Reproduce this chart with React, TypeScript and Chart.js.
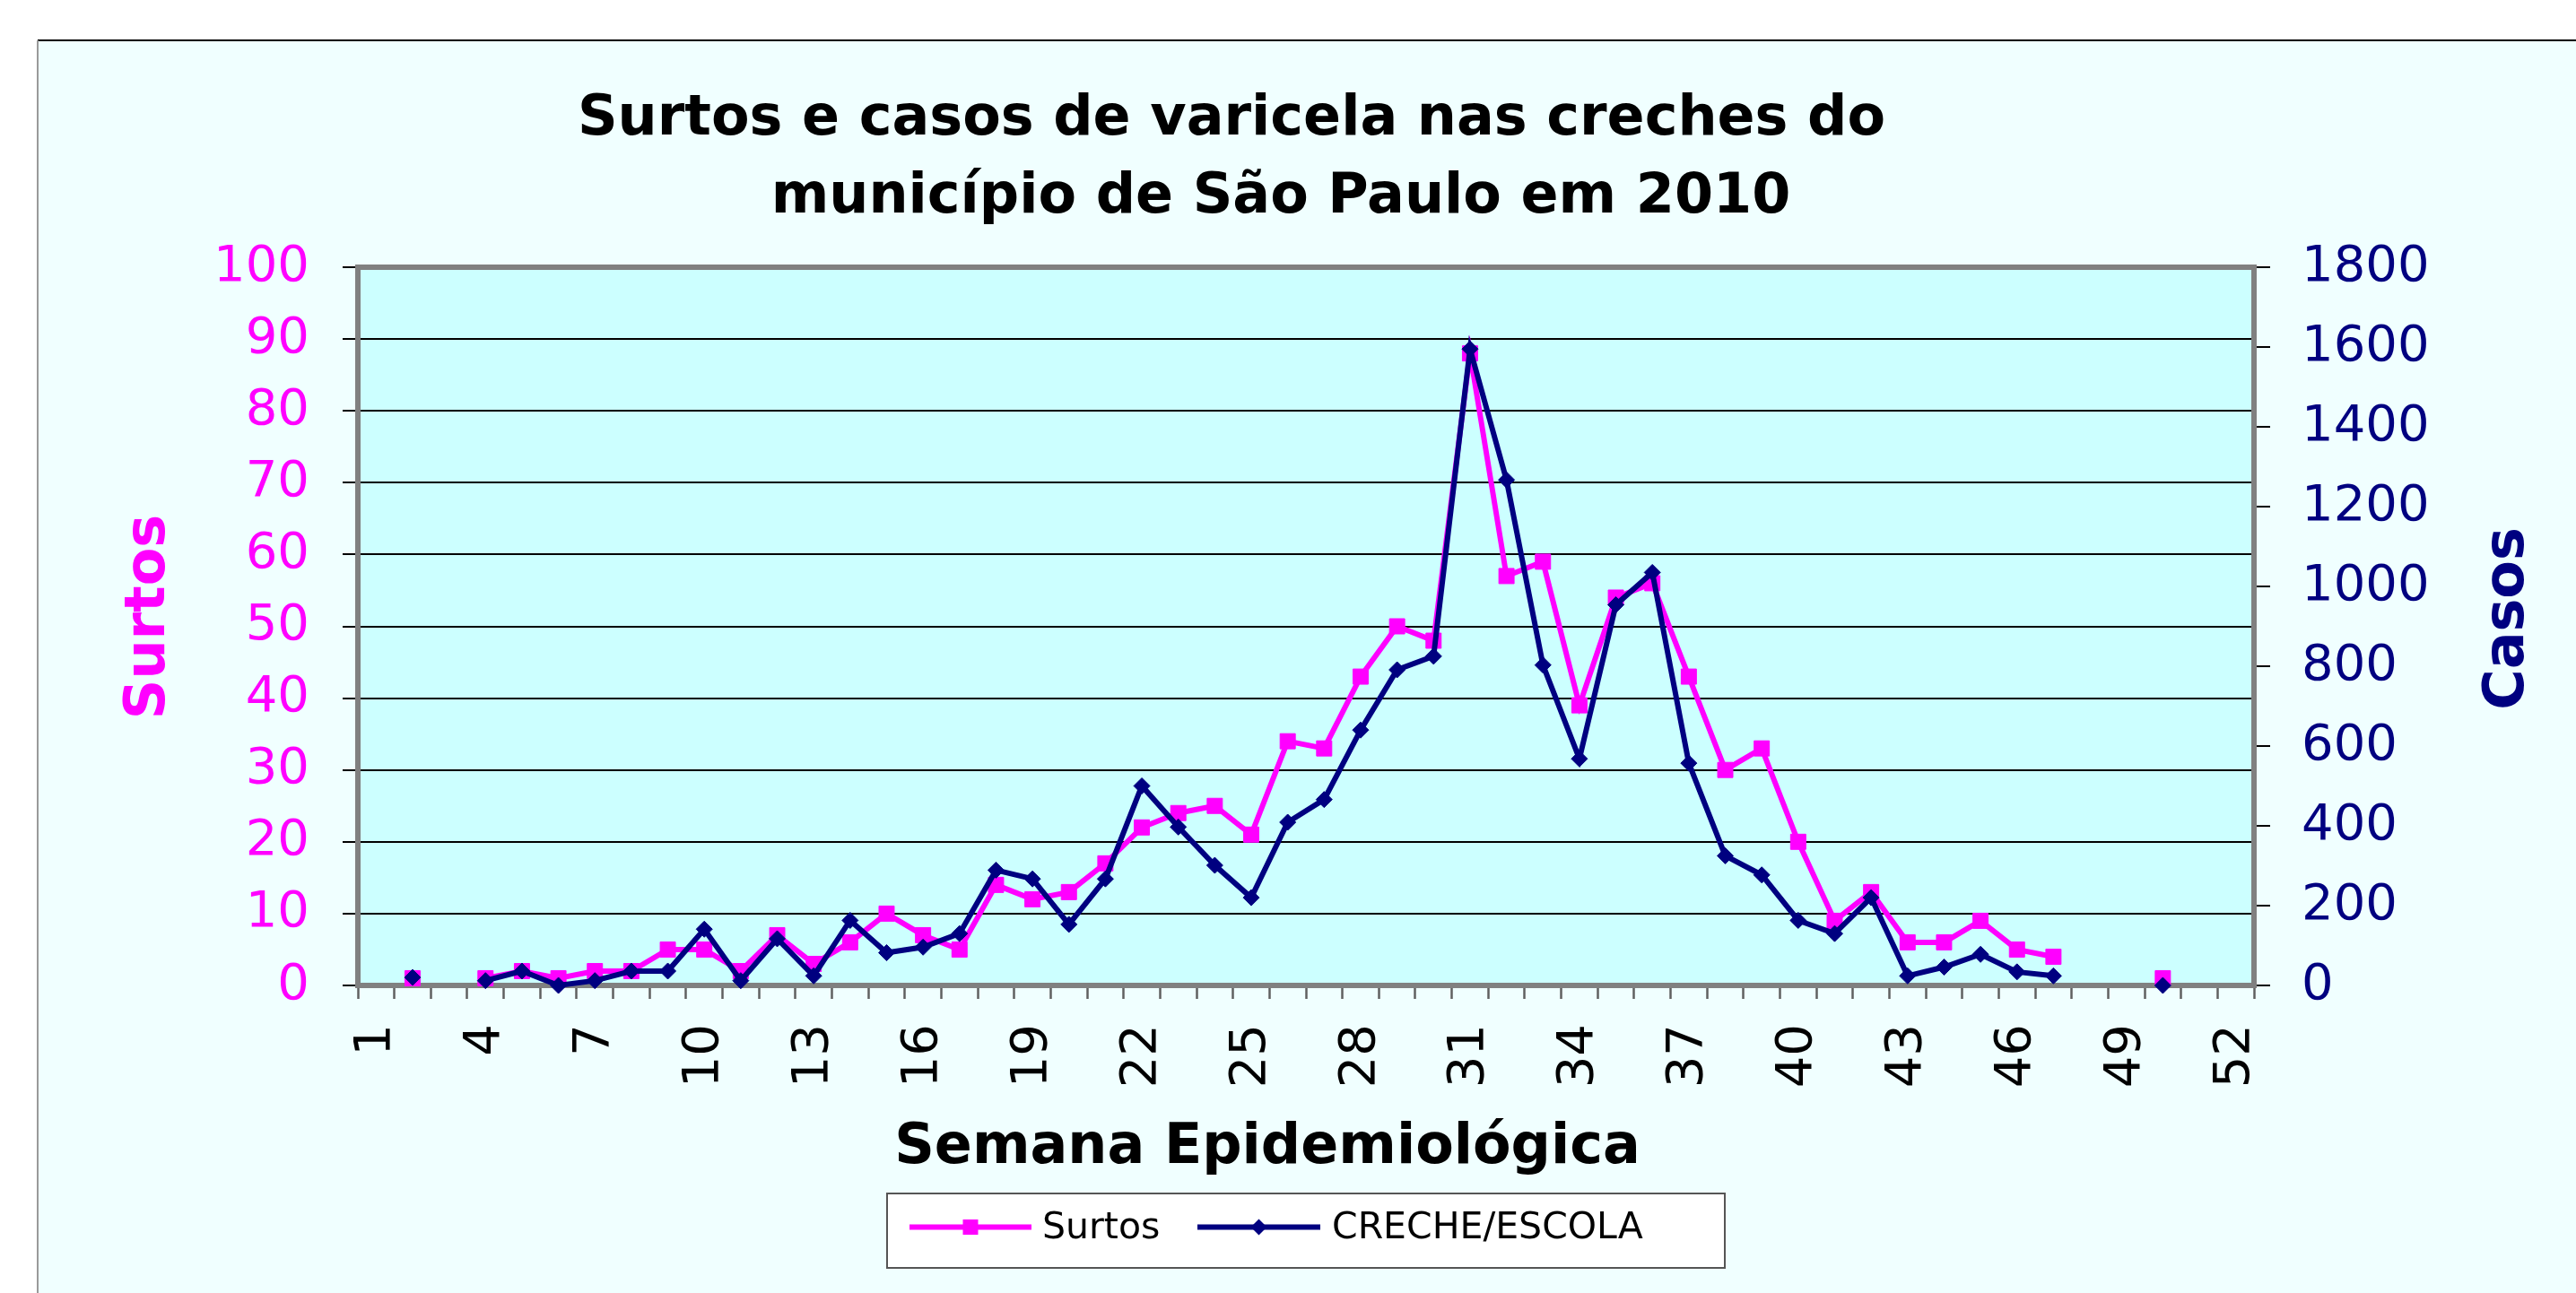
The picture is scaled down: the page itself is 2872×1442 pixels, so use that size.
import React, { useEffect, useRef } from 'react';
import { Chart, registerables } from 'chart.js';

Chart.register(...registerables);

const weeks = ['1','2','3','4','5','6','7','8','9','10','11','12','13','14','15','16','17','18','19','20','21','22','23','24','25','26','27','28','29','30','31','32','33','34','35','36','37','38','39','40','41','42','43','44','45','46','47','48','49','50','51','52'];

const surtos = [null, 1, null, 1, 2, 1, 2, 2, 5, 5, 2, 7, 3, 6, 10, 7, 5, 14, 12, 13, 17, 22, 24, 25, 21, 34, 33, 43, 50, 48, 88, 57, 59, 39, 54, 56, 43, 30, 33, 20, 9, 13, 6, 6, 9, 5, 4, null, null, 1, null, null];

const casos = [null, 20, null, 12, 36, 0, 12, 36, 36, 141, 12, 117, 24, 163, 82, 96, 130, 289, 267, 153, 267, 500, 397, 301, 220, 409, 466, 640, 791, 825, 1595, 1267, 803, 568, 954, 1035, 557, 325, 277, 163, 130, 220, 24, 46, 78, 34, 24, null, null, 0, null, null];

const titleLines = ['Surtos e casos de varicela nas creches do', 'município de São Paulo em 2010'];
const xTitle = 'Semana Epidemiológica';
const yLeftTitle = 'Surtos';
const yRightTitle = 'Casos';
const seriesNames = ['Surtos', 'CRECHE/ESCOLA'];

const MAGENTA = '#FF00FF';
const NAVY = '#000080';
const FONT = "'DejaVu Sans', Verdana, sans-serif";

export default function App() {
  const ref = useRef<HTMLCanvasElement>(null);

  useEffect(() => {
    const canvas = ref.current!;

    const decor = {
      id: 'decor',
      beforeDraw(chart: any) {
        const { ctx, width, height, chartArea: a } = chart;
        ctx.save();
        ctx.fillStyle = '#ffffff';
        ctx.fillRect(0, 0, width, height);
        ctx.fillStyle = '#F0FFFF';
        ctx.fillRect(42, 45, width - 42, height - 45);
        ctx.lineWidth = 2;
        ctx.strokeStyle = '#000000';
        ctx.beginPath();
        ctx.moveTo(42, 45);
        ctx.lineTo(width, 45);
        ctx.stroke();
        ctx.strokeStyle = '#9a9a9a';
        ctx.beginPath();
        ctx.moveTo(42, 45);
        ctx.lineTo(42, height);
        ctx.stroke();
        ctx.fillStyle = '#CCFFFF';
        ctx.fillRect(a.left, a.top, a.width, a.height);
        ctx.restore();
      },
      beforeDatasetsDraw(chart: any) {
        const { ctx, chartArea: a } = chart;
        ctx.save();
        ctx.strokeStyle = '#808080';
        ctx.lineWidth = 6;
        ctx.strokeRect(a.left, a.top, a.width, a.height);
        ctx.restore();
      },
      afterDraw(chart: any) {
        const { ctx } = chart;
        ctx.save();
        ctx.fillStyle = '#000000';
        ctx.font = `bold 62px ${FONT}`;
        ctx.textAlign = 'center';
        ctx.textBaseline = 'alphabetic';
        ctx.fillText(titleLines[0], 1373, 150);
        ctx.fillText(titleLines[1], 1428, 237);
        ctx.fillText(xTitle, 1413, 1297);
        ctx.fillStyle = MAGENTA;
        ctx.save();
        ctx.translate(183, 688);
        ctx.rotate(-Math.PI / 2);
        ctx.fillText(yLeftTitle, 0, 0);
        ctx.restore();
        ctx.fillStyle = NAVY;
        ctx.save();
        ctx.translate(2813, 690);
        ctx.rotate(-Math.PI / 2);
        ctx.fillText(yRightTitle, 0, 0);
        ctx.restore();

        const lx = 989, ly = 1331, lw = 934, lh = 83;
        ctx.fillStyle = '#ffffff';
        ctx.fillRect(lx, ly, lw, lh);
        ctx.strokeStyle = '#555555';
        ctx.lineWidth = 2;
        ctx.strokeRect(lx, ly, lw, lh);
        const cy = ly + lh / 2 - 4;
        const items = [
          { x0: 1014, x1: 1150, tx: 1162 },
          { x0: 1335, x1: 1472, tx: 1485 },
        ];
        const ds = chart.data.datasets;
        ctx.font = `41px ${FONT}`;
        ctx.textAlign = 'left';
        ctx.textBaseline = 'middle';
        items.forEach((it, i) => {
          const d = ds[i];
          ctx.strokeStyle = d.borderColor;
          ctx.lineWidth = d.borderWidth;
          ctx.beginPath();
          ctx.moveTo(it.x0, cy);
          ctx.lineTo(it.x1, cy);
          ctx.stroke();
          ctx.fillStyle = d.pointBackgroundColor;
          const mx = (it.x0 + it.x1) / 2;
          ctx.beginPath();
          if (d.pointStyle === 'rect') {
            const s = d.pointRadius * Math.SQRT1_2;
            ctx.rect(mx - s, cy - s, 2 * s, 2 * s);
          } else {
            const r = d.pointRadius;
            ctx.moveTo(mx - r, cy);
            ctx.lineTo(mx, cy - r);
            ctx.lineTo(mx + r, cy);
            ctx.lineTo(mx, cy + r);
            ctx.closePath();
          }
          ctx.fill();
          ctx.fillStyle = '#000000';
          ctx.fillText(d.label, it.tx, cy + 2);
        });
        ctx.restore();
      },
    };

    const chart = new Chart(canvas, {
      type: 'line',
      data: {
        labels: weeks,
        datasets: [
          {
            label: seriesNames[0],
            data: surtos,
            yAxisID: 'y',
            borderColor: MAGENTA,
            backgroundColor: MAGENTA,
            pointBackgroundColor: MAGENTA,
            pointBorderColor: MAGENTA,
            pointBorderWidth: 1,
            pointStyle: 'rect',
            pointRadius: 12,
            borderWidth: 6,
            tension: 0,
            spanGaps: false,
            clip: false,
            order: 2,
          } as any,
          {
            label: seriesNames[1],
            data: casos,
            yAxisID: 'y1',
            borderColor: NAVY,
            backgroundColor: NAVY,
            pointBackgroundColor: NAVY,
            pointBorderColor: NAVY,
            pointBorderWidth: 1,
            pointStyle: 'rectRot',
            pointRadius: 9,
            borderWidth: 6,
            tension: 0,
            spanGaps: false,
            clip: false,
            order: 1,
          } as any,
        ],
      },
      options: {
        responsive: false,
        animation: false,
        events: [],
        layout: { padding: { top: 298, left: 0, right: 0, bottom: 0 } },
        plugins: {
          legend: { display: false },
          title: { display: false },
          tooltip: { enabled: false },
        },
        scales: {
          x: {
            type: 'category',
            offset: true,
            grid: {
              display: true,
              offset: true,
              drawOnChartArea: false,
              drawTicks: true,
              tickLength: 15,
              tickColor: '#606060',
              tickWidth: 2.5,
            },
            border: { display: false },
            ticks: {
              autoSkip: false,
              minRotation: 90,
              maxRotation: 90,
              padding: 28,
              color: '#000000',
              font: { family: FONT, size: 56 },
              callback: (_v: any, i: number) => (i % 3 === 0 ? weeks[i] : ''),
            },
            afterFit: (s: any) => { s.height = 343; },
          },
          y: {
            type: 'linear',
            position: 'left',
            min: 0,
            max: 100,
            grid: {
              color: '#000000',
              lineWidth: 2,
              tickLength: 17,
              tickColor: '#000000',
            },
            border: { display: false },
            ticks: {
              stepSize: 10,
              padding: 37,
              color: MAGENTA,
              font: { family: FONT, size: 56 },
              callback: (v: any) => String(v),
            },
            afterFit: (s: any) => { s.width = 399; },
          },
          y1: {
            type: 'linear',
            position: 'right',
            min: 0,
            max: 1800,
            grid: {
              drawOnChartArea: false,
              tickLength: 18,
              tickColor: '#000000',
              lineWidth: 2,
            },
            border: { display: false },
            ticks: {
              stepSize: 200,
              padding: 35,
              color: NAVY,
              font: { family: FONT, size: 56 },
              callback: (v: any) => String(v),
            },
            afterFit: (s: any) => { s.width = 359; },
          },
        },
      },
      plugins: [decor],
    });

    return () => chart.destroy();
  }, []);

  return (
    <div style={{ position: 'fixed', left: 0, top: 0, width: 2872, height: 1442 }}>
      <canvas ref={ref} width={2872} height={1442} style={{ display: 'block', width: 2872, height: 1442 }} />
    </div>
  );
}
